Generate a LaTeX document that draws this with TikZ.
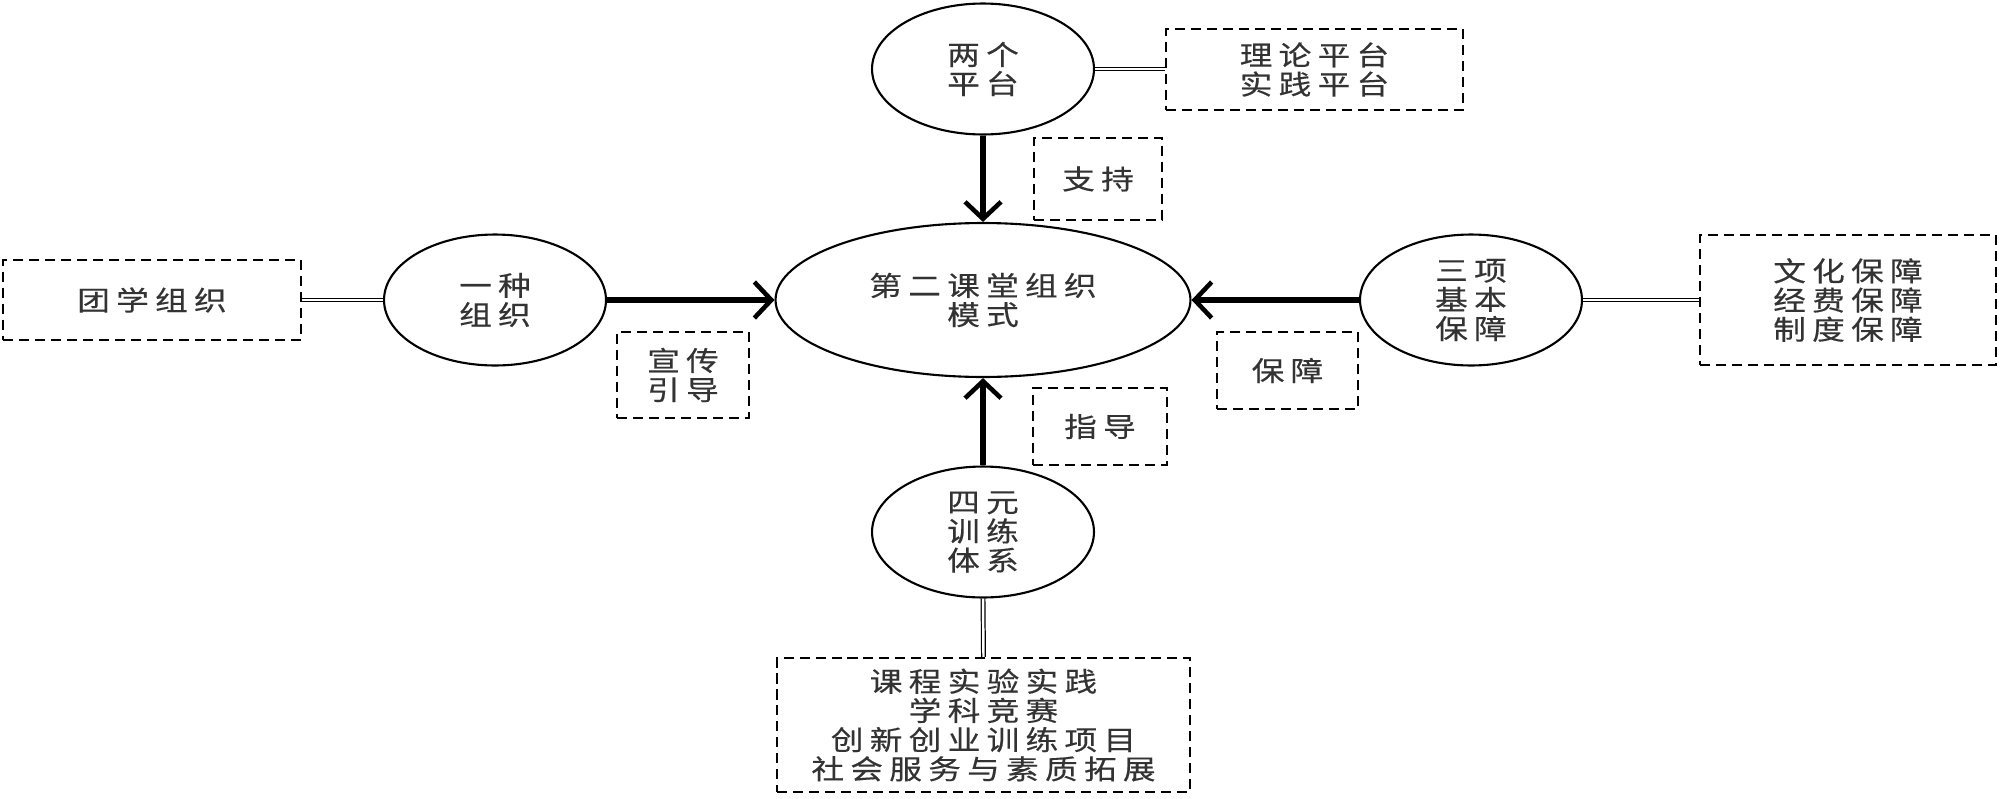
\documentclass[tikz,border=0pt]{standalone}
\usepackage{fontspec}
\usetikzlibrary{arrows.meta,shapes.geometric}
\newfontfamily\cjk[LetterSpace=23,FakeStretch=1.2,FakeBold=0.4]{Noto Sans CJK SC}
\begin{document}
\begin{tikzpicture}[x=0.02cm,y=-0.02cm,
  txt/.style={font=\cjk\fontsize{15.5pt}{16.6pt}\selectfont,align=center,text=black!80},
  ell/.style={txt,ellipse,draw,line width=1.2pt,inner sep=0pt},
  small/.style={ell,minimum width=4.44cm,minimum height=2.62cm},
  dbox/.style={txt,draw,line width=1.2pt,dash pattern=on 5.7pt off 3.4pt,inner sep=0pt},
  arr/.style={line width=3.6pt,-{Straight Barb[length=3.4mm,width=7.2mm,line width=2.6pt]}},
  dbl/.style={double,double distance=1.4pt,line width=0.7pt}]
\useasboundingbox (0,0) rectangle (2000,798);
\node[ell,minimum width=8.3cm,minimum height=3.08cm] (C) at (983,300) {第二课堂组织\\模式};
\node[small] (T) at (983,69) {两个\\平台};
\node[small] (L) at (495,300) {一种\\组织};
\node[small] (R) at (1471,300) {三项\\基本\\保障};
\node[small] (B) at (983,532) {四元\\训练\\体系};
\node[dbox,minimum width=5.94cm,minimum height=1.62cm] (TB) at (1314.5,69.5) {理论平台\\实践平台};
\node[dbox,minimum width=2.56cm,minimum height=1.64cm] (TL) at (1098,179) {支持};
\node[dbox,minimum width=5.96cm,minimum height=1.6cm] (LB) at (152,300) {团学组织};
\node[dbox,minimum width=2.64cm,minimum height=1.72cm] (LL) at (683,375) {宣传\\引导};
\node[dbox,minimum width=2.82cm,minimum height=1.54cm] (RL) at (1287.5,370.5) {保障};
\node[dbox,minimum width=5.92cm,minimum height=2.6cm] (RB) at (1848,300) {文化保障\\经费保障\\制度保障};
\node[dbox,minimum width=2.68cm,minimum height=1.54cm] (BL) at (1100,426.5) {指导};
\node[dbox,minimum width=8.26cm,minimum height=2.68cm] (BB) at (983.5,725) {课程实验实践\\学科竞赛\\创新创业训练项目\\社会服务与素质拓展};
\draw[dbl] (T.east) -- (T.east -| TB.west);
\draw[arr] (T.south) -- (C.north);
\draw[dbl] (LB.east) -- (L.west);
\draw[arr] (L.east) -- (C.west);
\draw[arr] (R.west) -- (C.east);
\draw[dbl] (R.east) -- (RB.west);
\draw[arr] (B.north) -- (C.south);
\draw[dbl] (B.south) -- (BB.north);
\end{tikzpicture}
\end{document}
